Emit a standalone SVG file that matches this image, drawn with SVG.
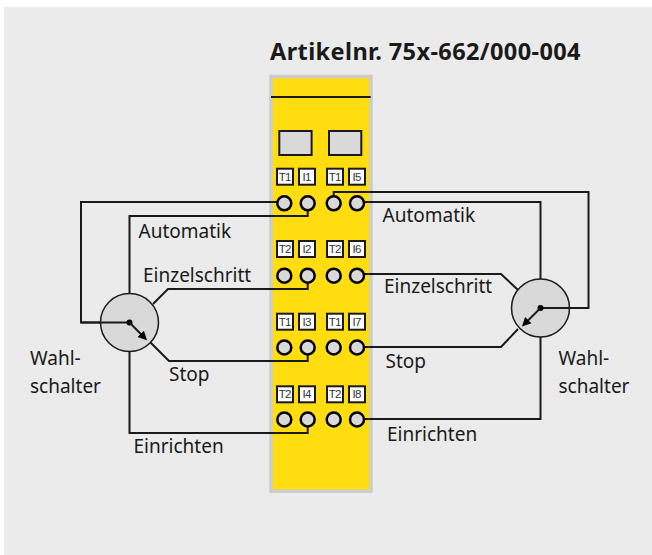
<svg xmlns="http://www.w3.org/2000/svg" width="652" height="555" viewBox="0 0 652 555">
<style>
text{font-family:"Noto Sans","Liberation Sans",sans-serif;font-size:19px;fill:#1a1a1a}
.t{font-size:23.500px;font-weight:700;letter-spacing:.4px}
text.s{font-family:"Liberation Sans",sans-serif;font-size:11.500px;text-anchor:middle;letter-spacing:-.7px;fill:#333}
.w{fill:none;stroke:#1a1a1a;stroke-width:2}
.p{fill:#fff;stroke:#1a1a1a;stroke-width:2}
.d{fill:#d9d9d9;stroke:#1a1a1a;stroke-width:2}
.c{fill:#d9d9d9;stroke:#000;stroke-width:2.500}
.sw{fill:#d9d9d9;stroke:#1a1a1a;stroke-width:1.500}
</style>
<defs>
<marker id="a" markerUnits="userSpaceOnUse" markerWidth="12" markerHeight="12" refX="4" refY="5" orient="auto"><path d="M0 0.500L9 5L0 9.500Z" fill="#000"/></marker>
</defs>
<rect width="652" height="555" fill="#fff"/>
<rect x="4" y="7" width="648" height="548" fill="#ebebeb"/>
<text class="t" x="270" y="60">Artikelnr. 75x-662/000-004</text>
<g id="module">
<rect x="271" y="76.500" width="100" height="414.700" fill="#ffdd11" stroke="#ccc" stroke-width="3.500"/>
<path class="w" d="M271 97H370.700"/>
<rect class="d" x="279.300" y="131" width="32.300" height="24"/>
<rect class="d" x="329" y="131" width="32.300" height="24"/>
</g>
<g id="connectors">
<path class="w" d="M284 202H81V322.500H129.500"/>
<path class="w" d="M307.700 203.500V216H129.500V293.500"/>
<path class="w" d="M153 304L168 289H307.700V275.500"/>
<path class="w" d="M150 342L169 361H307.700V347.500"/>
<path class="w" d="M129.500 351.500V433H307.700V419.500"/>
<path class="w" d="M333.700 203V192H588.500V308H540.500"/>
<path class="w" d="M357 202H540.500V279"/>
<path class="w" d="M357 274H501L518 290"/>
<path class="w" d="M518 329L501 347H357"/>
<path class="w" d="M540.500 337V419H357"/>
</g>
<g id="terminals">
<g id="row1"><rect class="p" x="277" y="168.700" width="16" height="16"/><text class="s" x="284.700" y="180.800">T1</text><rect class="p" x="299" y="168.700" width="16" height="16"/><text class="s" x="306.700" y="180.800">I1</text><rect class="p" x="327" y="168.700" width="16" height="16"/><text class="s" x="334.700" y="180.800">T1</text><rect class="p" x="349" y="168.700" width="16" height="16"/><text class="s" x="356.700" y="180.800">I5</text><circle class="c" cx="284.300" cy="203.300" r="7"/><circle class="c" cx="307.700" cy="203.300" r="7"/><circle class="c" cx="333.700" cy="203.300" r="7"/><circle class="c" cx="357" cy="203.300" r="7"/></g>
<g id="row2"><rect class="p" x="277" y="241" width="16" height="16"/><text class="s" x="284.700" y="253.100">T2</text><rect class="p" x="299" y="241" width="16" height="16"/><text class="s" x="306.700" y="253.100">I2</text><rect class="p" x="327" y="241" width="16" height="16"/><text class="s" x="334.700" y="253.100">T2</text><rect class="p" x="349" y="241" width="16" height="16"/><text class="s" x="356.700" y="253.100">I6</text><circle class="c" cx="284.300" cy="275.700" r="7"/><circle class="c" cx="307.700" cy="275.700" r="7"/><circle class="c" cx="333.700" cy="275.700" r="7"/><circle class="c" cx="357" cy="275.700" r="7"/></g>
<g id="row3"><rect class="p" x="277" y="313.700" width="16" height="16"/><text class="s" x="284.700" y="325.800">T1</text><rect class="p" x="299" y="313.700" width="16" height="16"/><text class="s" x="306.700" y="325.800">I3</text><rect class="p" x="327" y="313.700" width="16" height="16"/><text class="s" x="334.700" y="325.800">T1</text><rect class="p" x="349" y="313.700" width="16" height="16"/><text class="s" x="356.700" y="325.800">I7</text><circle class="c" cx="284.300" cy="347.500" r="7"/><circle class="c" cx="307.700" cy="347.500" r="7"/><circle class="c" cx="333.700" cy="347.500" r="7"/><circle class="c" cx="357" cy="347.500" r="7"/></g>
<g id="row4"><rect class="p" x="277" y="386.300" width="16" height="16"/><text class="s" x="284.700" y="398.400">T2</text><rect class="p" x="299" y="386.300" width="16" height="16"/><text class="s" x="306.700" y="398.400">I4</text><rect class="p" x="327" y="386.300" width="16" height="16"/><text class="s" x="334.700" y="398.400">T2</text><rect class="p" x="349" y="386.300" width="16" height="16"/><text class="s" x="356.700" y="398.400">I8</text><circle class="c" cx="284.300" cy="419.500" r="7"/><circle class="c" cx="307.700" cy="419.500" r="7"/><circle class="c" cx="333.700" cy="419.500" r="7"/><circle class="c" cx="357" cy="419.500" r="7"/></g>
</g>
<g id="switch-left"><circle class="sw" cx="129.500" cy="322.500" r="29"/><path class="w" d="M81 322.500H129.500"/><circle cx="129.500" cy="322.500" r="3" fill="#000"/><path class="w" d="M129.500 322.500L143.500 336.800" marker-end="url(#a)"/></g>
<g id="switch-right"><circle class="sw" cx="540.500" cy="308" r="29"/><path class="w" d="M588.500 308H540.500"/><circle cx="540.500" cy="308" r="3" fill="#000"/><path class="w" d="M540.500 308L525.500 323" marker-end="url(#a)"/></g>
<g id="labels">
<text x="138.500" y="238">Automatik</text>
<text x="143" y="281.500">Einzelschritt</text>
<text x="169" y="381">Stop</text>
<text x="133.500" y="453">Einrichten</text>
<text x="382.500" y="221.500">Automatik</text>
<text x="384" y="292.500">Einzelschritt</text>
<text x="385.500" y="368">Stop</text>
<text x="387" y="441">Einrichten</text>
<text x="30" y="365">Wahl-</text>
<text x="30" y="393">schalter</text>
<text x="558.500" y="365">Wahl-</text>
<text x="558.500" y="393">schalter</text>
</g>
</svg>
